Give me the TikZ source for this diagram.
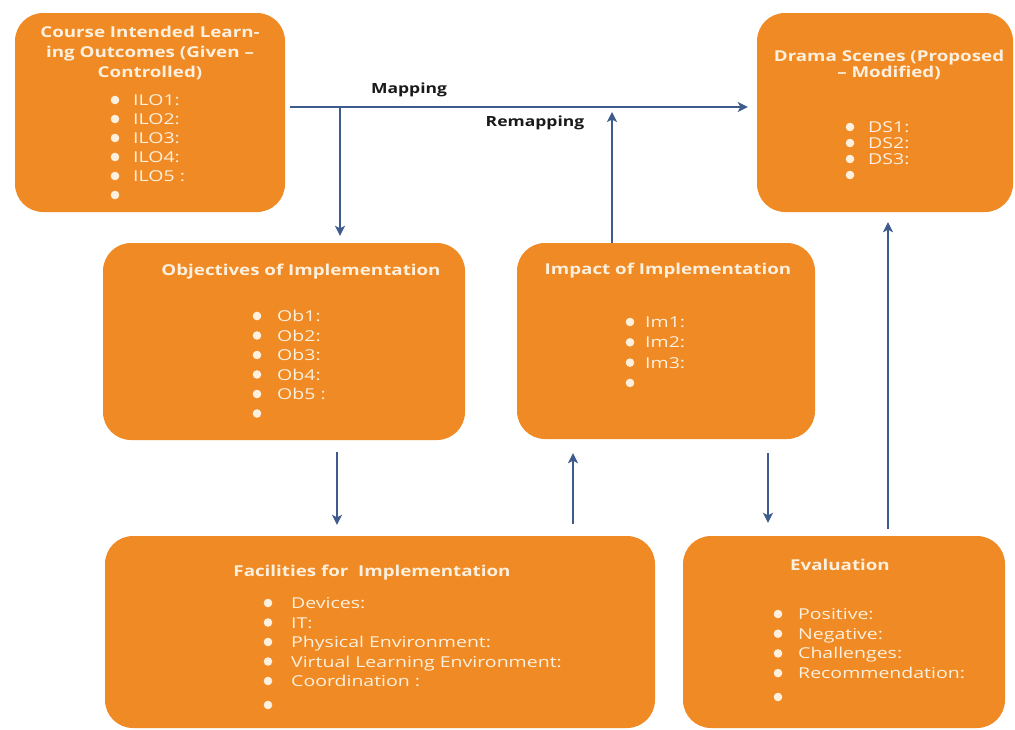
\documentclass[tikz,border=0pt]{standalone}
\usepackage{fontspec}
\setmainfont[FakeStretch=1.3]{Open Sans}
\newfontfamily\ttlfont[FakeStretch=1.25]{Open Sans}
\usetikzlibrary{arrows.meta}
\definecolor{boxor}{HTML}{F08A24}
\definecolor{txtc}{HTML}{FDF0DE}
\definecolor{arrc}{HTML}{3E5B8E}
\newcommand\fl{\rule{0pt}{11pt}}
\tikzset{
  box/.style={fill=boxor, rounded corners=28pt, inner sep=0pt},
  ttl/.style={text=txtc, font=\ttlfont\bfseries\fontsize{15}{#1}\selectfont, align=center, inner sep=0pt},
  lst/.style={text=txtc, font=\fontsize{15}{#1}\selectfont, align=left, anchor=north west, inner sep=0pt},
  arr/.style={draw=arrc, line width=1.6pt, -{Stealth[length=10pt,width=10pt,inset=2.5pt]}},
  lbl/.style={font=\ttlfont\bfseries\fontsize{14}{16}\selectfont, text=black!90, inner sep=0pt},
  bul/.style={fill=txtc},
}
\begin{document}
\begin{tikzpicture}[x=1pt,y=-1pt]
\useasboundingbox (0,0) rectangle (1015,729);
\fill[white] (0,0) rectangle (1015,729);
% boxes
\node[box, minimum width=270pt, minimum height=199pt] (cilo) at (150,112.5) {};
\node[box, minimum width=256pt, minimum height=199pt] (drama) at (885,112.5) {};
\node[box, minimum width=362pt, minimum height=197pt] (obj) at (284,341.5) {};
\node[box, minimum width=298pt, minimum height=196pt] (imp) at (666,341) {};
\node[box, minimum width=550pt, minimum height=192pt] (fac) at (380,632) {};
\node[box, minimum width=322pt, minimum height=192pt] (eval) at (844,632) {};
% titles
\node[ttl=20] (ciloT) at (150,53) {Course Intended Learn-\\ing Outcomes (Given –\\Controlled)};
\node[ttl=16] (dramaT) at (889,65) {Drama Scenes (Proposed\\– Modified)};
\node[ttl=20] (objT) at (301,272) {Objectives of Implementation};
\node[ttl=20] (impT) at (668,271) {Impact of Implementation};
\node[ttl=20] (facT) at (372,573) {Facilities for\ \ Implementation};
\node[ttl=20] (evalT) at (840,565) {Evaluation};
% lists (first baseline = first centre + 5.3)
\foreach \i in {0,...,5} \fill[bul] (115,{100+19*\i}) circle (4.3);
\node[lst=19] (ciloL) at (133,94.3) {\fl ILO1:\\ILO2:\\ILO3:\\ILO4:\\ILO5 :};
\foreach \i in {0,...,3} \fill[bul] (850,{127+16*\i}) circle (4.3);
\node[lst=16] (dramaL) at (868,121.3) {\fl DS1:\\DS2:\\DS3:};
\foreach \i in {0,...,5} \fill[bul] (257,{316+19.5*\i}) circle (4.3);
\node[lst=19.5] (objL) at (277,310.3) {\fl Ob1:\\Ob2:\\Ob3:\\Ob4:\\Ob5 :};
\foreach \i in {0,...,3} \fill[bul] (630,{322+20.3*\i}) circle (4.3);
\node[lst=20.3] (impL) at (645,316.3) {\fl Im1:\\Im2:\\Im3:};
\foreach \i in {0,...,4} \fill[bul] (268,{603+19.5*\i}) circle (4.3);
\fill[bul] (268,705) circle (4.3);
\node[lst=19.5] (facL) at (291,597.3) {\fl Devices:\\IT:\\Physical Environment:\\Virtual Learning Environment:\\Coordination :};
\foreach \i in {0,...,3} \fill[bul] (778,{614+19.7*\i}) circle (4.3);
\fill[bul] (778,697) circle (4.3);
\node[lst=19.7] (evalL) at (798,608.3) {\fl Positive:\\Negative:\\Challenges:\\Recommendation:};
% labels
\node[lbl] (map) at (409,90) {Mapping};
\node[lbl] (remap) at (535,123) {Remapping};
% connectors
\coordinate (mdown) at (340,107);
\coordinate (rup) at (612,112);
\coordinate (xa) at (337,0);
\coordinate (xb) at (573,0);
\coordinate (xc) at (768,0);
\coordinate (xd) at (888,0);
\draw[arr] ([xshift=5pt,yshift=5.5pt]cilo.east) -- ([xshift=-9pt,yshift=5.5pt]drama.west);
\draw[arr, shorten >=7pt] (mdown) -- (mdown |- obj.north);
\draw[arr] (rup |- imp.north) -- (rup);
\draw[arr, shorten <=12pt, shorten >=11pt] (obj.south -| xa) -- (fac.north -| xa);
\draw[arr, shorten <=12pt, shorten >=14pt] (fac.north -| xb) -- (imp.south -| xb);
\draw[arr, shorten <=14pt, shorten >=13pt] (imp.south -| xc) -- (eval.north -| xc);
\draw[arr, shorten <=7pt, shorten >=10pt] (eval.north -| xd) -- (drama.south -| xd);
\end{tikzpicture}
\end{document}
